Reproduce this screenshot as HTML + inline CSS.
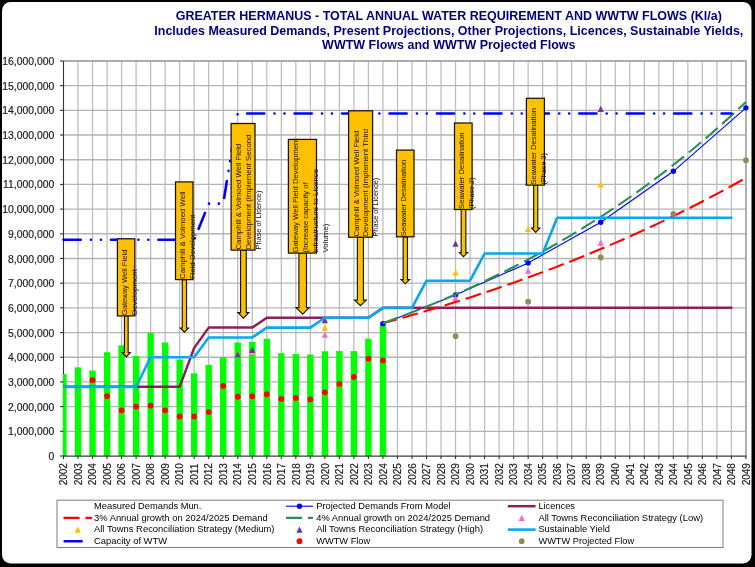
<!DOCTYPE html>
<html><head><meta charset="utf-8"><title>Greater Hermanus - Total Annual Water Requirement and WWTW Flows</title>
<style>
html,body{margin:0;padding:0;background:#000;}
body{width:755px;height:567px;position:relative;overflow:hidden;font-family:"Liberation Sans",sans-serif;}
</style></head><body>
<svg width="755" height="567" viewBox="0 0 755 567" style="position:absolute;left:0;top:0;display:block;will-change:transform">
<rect x="0" y="0" width="755" height="567" fill="#000"/>
<rect x="2" y="2" width="749.5" height="561.5" rx="8.5" ry="8.5" fill="#fff"/>
<g shape-rendering="auto" fill="none">
<line x1="78.02" y1="60.96" x2="78.02" y2="456" stroke="#bcbcbc" stroke-width="1.25"/>
<line x1="92.54" y1="60.96" x2="92.54" y2="456" stroke="#bcbcbc" stroke-width="1.25"/>
<line x1="107.06" y1="60.96" x2="107.06" y2="456" stroke="#bcbcbc" stroke-width="1.25"/>
<line x1="121.58" y1="60.96" x2="121.58" y2="456" stroke="#bcbcbc" stroke-width="1.25"/>
<line x1="136.1" y1="60.96" x2="136.1" y2="456" stroke="#bcbcbc" stroke-width="1.25"/>
<line x1="150.62" y1="60.96" x2="150.62" y2="456" stroke="#bcbcbc" stroke-width="1.25"/>
<line x1="165.14" y1="60.96" x2="165.14" y2="456" stroke="#bcbcbc" stroke-width="1.25"/>
<line x1="179.66" y1="60.96" x2="179.66" y2="456" stroke="#bcbcbc" stroke-width="1.25"/>
<line x1="194.18" y1="60.96" x2="194.18" y2="456" stroke="#bcbcbc" stroke-width="1.25"/>
<line x1="208.7" y1="60.96" x2="208.7" y2="456" stroke="#bcbcbc" stroke-width="1.25"/>
<line x1="223.22" y1="60.96" x2="223.22" y2="456" stroke="#bcbcbc" stroke-width="1.25"/>
<line x1="237.74" y1="60.96" x2="237.74" y2="456" stroke="#bcbcbc" stroke-width="1.25"/>
<line x1="252.26" y1="60.96" x2="252.26" y2="456" stroke="#bcbcbc" stroke-width="1.25"/>
<line x1="266.78" y1="60.96" x2="266.78" y2="456" stroke="#bcbcbc" stroke-width="1.25"/>
<line x1="281.3" y1="60.96" x2="281.3" y2="456" stroke="#bcbcbc" stroke-width="1.25"/>
<line x1="295.82" y1="60.96" x2="295.82" y2="456" stroke="#bcbcbc" stroke-width="1.25"/>
<line x1="310.34" y1="60.96" x2="310.34" y2="456" stroke="#bcbcbc" stroke-width="1.25"/>
<line x1="324.86" y1="60.96" x2="324.86" y2="456" stroke="#bcbcbc" stroke-width="1.25"/>
<line x1="339.38" y1="60.96" x2="339.38" y2="456" stroke="#bcbcbc" stroke-width="1.25"/>
<line x1="353.9" y1="60.96" x2="353.9" y2="456" stroke="#bcbcbc" stroke-width="1.25"/>
<line x1="368.42" y1="60.96" x2="368.42" y2="456" stroke="#bcbcbc" stroke-width="1.25"/>
<line x1="382.94" y1="60.96" x2="382.94" y2="456" stroke="#bcbcbc" stroke-width="1.25"/>
<line x1="397.46" y1="60.96" x2="397.46" y2="456" stroke="#bcbcbc" stroke-width="1.25"/>
<line x1="411.98" y1="60.96" x2="411.98" y2="456" stroke="#bcbcbc" stroke-width="1.25"/>
<line x1="426.5" y1="60.96" x2="426.5" y2="456" stroke="#bcbcbc" stroke-width="1.25"/>
<line x1="441.02" y1="60.96" x2="441.02" y2="456" stroke="#bcbcbc" stroke-width="1.25"/>
<line x1="455.54" y1="60.96" x2="455.54" y2="456" stroke="#bcbcbc" stroke-width="1.25"/>
<line x1="470.06" y1="60.96" x2="470.06" y2="456" stroke="#bcbcbc" stroke-width="1.25"/>
<line x1="484.58" y1="60.96" x2="484.58" y2="456" stroke="#bcbcbc" stroke-width="1.25"/>
<line x1="499.1" y1="60.96" x2="499.1" y2="456" stroke="#bcbcbc" stroke-width="1.25"/>
<line x1="513.62" y1="60.96" x2="513.62" y2="456" stroke="#bcbcbc" stroke-width="1.25"/>
<line x1="528.14" y1="60.96" x2="528.14" y2="456" stroke="#bcbcbc" stroke-width="1.25"/>
<line x1="542.66" y1="60.96" x2="542.66" y2="456" stroke="#bcbcbc" stroke-width="1.25"/>
<line x1="557.18" y1="60.96" x2="557.18" y2="456" stroke="#bcbcbc" stroke-width="1.25"/>
<line x1="571.7" y1="60.96" x2="571.7" y2="456" stroke="#bcbcbc" stroke-width="1.25"/>
<line x1="586.22" y1="60.96" x2="586.22" y2="456" stroke="#bcbcbc" stroke-width="1.25"/>
<line x1="600.74" y1="60.96" x2="600.74" y2="456" stroke="#bcbcbc" stroke-width="1.25"/>
<line x1="615.26" y1="60.96" x2="615.26" y2="456" stroke="#bcbcbc" stroke-width="1.25"/>
<line x1="629.78" y1="60.96" x2="629.78" y2="456" stroke="#bcbcbc" stroke-width="1.25"/>
<line x1="644.3" y1="60.96" x2="644.3" y2="456" stroke="#bcbcbc" stroke-width="1.25"/>
<line x1="658.82" y1="60.96" x2="658.82" y2="456" stroke="#bcbcbc" stroke-width="1.25"/>
<line x1="673.34" y1="60.96" x2="673.34" y2="456" stroke="#bcbcbc" stroke-width="1.25"/>
<line x1="687.86" y1="60.96" x2="687.86" y2="456" stroke="#bcbcbc" stroke-width="1.25"/>
<line x1="702.38" y1="60.96" x2="702.38" y2="456" stroke="#bcbcbc" stroke-width="1.25"/>
<line x1="716.9" y1="60.96" x2="716.9" y2="456" stroke="#bcbcbc" stroke-width="1.25"/>
<line x1="731.42" y1="60.96" x2="731.42" y2="456" stroke="#bcbcbc" stroke-width="1.25"/>
<line x1="745.94" y1="60.96" x2="745.94" y2="456" stroke="#bcbcbc" stroke-width="1.25"/>
<line x1="63.5" y1="431.31" x2="745.94" y2="431.31" stroke="#b4b4b4" stroke-width="1.35"/>
<line x1="63.5" y1="406.62" x2="745.94" y2="406.62" stroke="#b4b4b4" stroke-width="1.35"/>
<line x1="63.5" y1="381.93" x2="745.94" y2="381.93" stroke="#b4b4b4" stroke-width="1.35"/>
<line x1="63.5" y1="357.24" x2="745.94" y2="357.24" stroke="#b4b4b4" stroke-width="1.35"/>
<line x1="63.5" y1="332.55" x2="745.94" y2="332.55" stroke="#b4b4b4" stroke-width="1.35"/>
<line x1="63.5" y1="307.86" x2="745.94" y2="307.86" stroke="#b4b4b4" stroke-width="1.35"/>
<line x1="63.5" y1="283.17" x2="745.94" y2="283.17" stroke="#b4b4b4" stroke-width="1.35"/>
<line x1="63.5" y1="258.48" x2="745.94" y2="258.48" stroke="#b4b4b4" stroke-width="1.35"/>
<line x1="63.5" y1="233.79" x2="745.94" y2="233.79" stroke="#b4b4b4" stroke-width="1.35"/>
<line x1="63.5" y1="209.1" x2="745.94" y2="209.1" stroke="#b4b4b4" stroke-width="1.35"/>
<line x1="63.5" y1="184.41" x2="745.94" y2="184.41" stroke="#b4b4b4" stroke-width="1.35"/>
<line x1="63.5" y1="159.72" x2="745.94" y2="159.72" stroke="#b4b4b4" stroke-width="1.35"/>
<line x1="63.5" y1="135.03" x2="745.94" y2="135.03" stroke="#b4b4b4" stroke-width="1.35"/>
<line x1="63.5" y1="110.34" x2="745.94" y2="110.34" stroke="#b4b4b4" stroke-width="1.35"/>
<line x1="63.5" y1="85.65" x2="745.94" y2="85.65" stroke="#b4b4b4" stroke-width="1.35"/>
<line x1="63.5" y1="60.96" x2="745.94" y2="60.96" stroke="#b4b4b4" stroke-width="1.35"/>
<path d="M63.5 60.96H745.94V456" stroke="#a4a4a4" stroke-width="1.5"/>
</g>
<path d="M63.5 60.96V456" stroke="#333" stroke-width="1.1" fill="none"/>
<g fill="#00ff00">
<rect x="62.8" y="374.03" width="3.8" height="81.97"/>
<rect x="74.82" y="367.36" width="6.4" height="88.64"/>
<rect x="89.34" y="370.57" width="6.4" height="85.43"/>
<rect x="103.86" y="352.3" width="6.4" height="103.7"/>
<rect x="118.38" y="345.39" width="6.4" height="110.61"/>
<rect x="132.9" y="356.01" width="6.4" height="99.99"/>
<rect x="147.42" y="332.8" width="6.4" height="123.2"/>
<rect x="161.94" y="342.43" width="6.4" height="113.57"/>
<rect x="176.46" y="359.46" width="6.4" height="96.54"/>
<rect x="190.98" y="373.29" width="6.4" height="82.71"/>
<rect x="205.5" y="364.89" width="6.4" height="91.11"/>
<rect x="220.02" y="357.24" width="6.4" height="98.76"/>
<rect x="234.54" y="342.43" width="6.4" height="113.57"/>
<rect x="249.06" y="341.93" width="6.4" height="114.07"/>
<rect x="263.58" y="338.72" width="6.4" height="117.28"/>
<rect x="278.1" y="353.29" width="6.4" height="102.71"/>
<rect x="292.62" y="354.03" width="6.4" height="101.97"/>
<rect x="307.14" y="354.52" width="6.4" height="101.48"/>
<rect x="321.66" y="351.31" width="6.4" height="104.69"/>
<rect x="336.18" y="351.07" width="6.4" height="104.93"/>
<rect x="350.7" y="351.07" width="6.4" height="104.93"/>
<rect x="365.22" y="338.72" width="6.4" height="117.28"/>
<rect x="379.74" y="324.65" width="6.4" height="131.35"/>
</g>
<polyline points="382.94,323.66 455.54,295.02 528.14,262.92 600.74,222.19 673.34,171.32 745.94,107.87" fill="none" stroke="#0000ff" stroke-width="1.1"/>
<circle cx="382.94" cy="323.66" r="2.7" fill="#0000ff"/>
<circle cx="455.54" cy="295.02" r="2.7" fill="#0000ff"/>
<circle cx="528.14" cy="262.92" r="2.7" fill="#0000ff"/>
<circle cx="600.74" cy="222.19" r="2.7" fill="#0000ff"/>
<circle cx="673.34" cy="171.32" r="2.7" fill="#0000ff"/>
<circle cx="745.94" cy="107.87" r="2.7" fill="#0000ff"/>
<polyline points="63.5,386.87 179.66,386.87 194.18,347.86 208.7,327.61 252.26,327.61 266.78,317.74 368.42,317.74 382.94,307.86 732.44,307.86" fill="none" stroke="#8c205c" stroke-width="2.5" stroke-linejoin="round"/>
<polyline points="382.94,323.17 390.2,321.19 397.46,319.18 404.72,317.15 411.98,315.08 419.24,312.98 426.5,310.85 433.76,308.69 441.02,306.5 448.28,304.27 455.54,302.01 462.8,299.72 470.06,297.39 477.32,295.03 484.58,292.63 491.84,290.2 499.1,287.73 506.36,285.23 513.62,282.68 520.88,280.1 528.14,277.48 535.4,274.83 542.66,272.13 549.92,269.39 557.18,266.61 564.44,263.79 571.7,260.93 578.96,258.03 586.22,255.08 593.48,252.09 600.74,249.05 608,245.97 615.26,242.84 622.52,239.67 629.78,236.45 637.04,233.18 644.3,229.86 651.56,226.5 658.82,223.08 666.08,219.61 673.34,216.09 680.6,212.52 687.86,208.89 695.12,205.21 702.38,201.48 709.64,197.69 716.9,193.84 724.16,189.94 731.42,185.98 738.68,181.96 745.94,177.88" fill="none" stroke="#ff0000" stroke-width="2.1" stroke-dasharray="16 6" stroke-dashoffset="1.8"/>
<polyline points="382.94,323.17 390.2,320.54 397.46,317.85 404.72,315.12 411.98,312.33 419.24,309.48 426.5,306.58 433.76,303.62 441.02,300.61 448.28,297.53 455.54,294.39 462.8,291.19 470.06,287.92 477.32,284.6 484.58,281.2 491.84,277.74 499.1,274.21 506.36,270.61 513.62,266.94 520.88,263.19 528.14,259.38 535.4,255.48 542.66,251.51 549.92,247.46 557.18,243.33 564.44,239.12 571.7,234.82 578.96,230.44 586.22,225.98 593.48,221.42 600.74,216.78 608,212.04 615.26,207.21 622.52,202.28 629.78,197.26 637.04,192.13 644.3,186.91 651.56,181.58 658.82,176.14 666.08,170.6 673.34,164.95 680.6,159.18 687.86,153.31 695.12,147.31 702.38,141.2 709.64,134.96 716.9,128.61 724.16,122.12 731.42,115.51 738.68,108.77 745.94,101.89" fill="none" stroke="#2a9058" stroke-width="2.1" stroke-dasharray="16 6"/>
<path d="M237.74 351.42L240.84 357.62L234.64 357.62Z" fill="#ff66cc"/>
<path d="M252.26 348.71L255.36 354.91L249.16 354.91Z" fill="#ff66cc"/>
<path d="M324.86 331.67L327.96 337.87L321.76 337.87Z" fill="#ff66cc"/>
<path d="M455.54 294.88L458.64 301.08L452.44 301.08Z" fill="#ff66cc"/>
<path d="M528.14 267.48L531.24 273.68L525.04 273.68Z" fill="#ff66cc"/>
<path d="M600.74 239.58L603.84 245.78L597.64 245.78Z" fill="#ff66cc"/>
<path d="M237.74 351.42L240.84 357.62L234.64 357.62Z" fill="#ffc000"/>
<path d="M252.26 348.21L255.36 354.41L249.16 354.41Z" fill="#ffc000"/>
<path d="M324.86 324.51L327.96 330.71L321.76 330.71Z" fill="#ffc000"/>
<path d="M455.54 269.21L458.64 275.41L452.44 275.41Z" fill="#ffc000"/>
<path d="M528.14 225.75L531.24 231.95L525.04 231.95Z" fill="#ffc000"/>
<path d="M600.74 181.31L603.84 187.51L597.64 187.51Z" fill="#ffc000"/>
<path d="M237.74 351.42L240.84 357.62L234.64 357.62Z" fill="#7030a0"/>
<path d="M252.26 346.73L255.36 352.93L249.16 352.93Z" fill="#7030a0"/>
<path d="M324.86 317.1L327.96 323.31L321.76 323.31Z" fill="#7030a0"/>
<path d="M455.54 240.57L458.64 246.77L452.44 246.77Z" fill="#7030a0"/>
<path d="M528.14 178.84L531.24 185.04L525.04 185.04Z" fill="#7030a0"/>
<path d="M600.74 105.76L603.84 111.96L597.64 111.96Z" fill="#7030a0"/>
<polyline points="63.5,386.87 136.1,386.87 150.62,357.24 194.18,357.24 208.7,337.49 252.26,337.49 266.78,327.61 310.34,327.61 324.86,317.74 368.42,317.74 382.94,307.86 411.98,307.86 426.5,280.7 470.06,280.7 484.58,253.54 542.66,253.54 557.18,217.74 732.44,217.74" fill="none" stroke="#07a8ee" stroke-width="2.6" stroke-linejoin="round"/>
<polyline points="63.5,239.72 194.18,239.72 208.7,203.67 223.22,203.67 237.74,113.55 731.42,113.55" fill="none" stroke="#0000ff" stroke-width="2.6" stroke-linecap="round" stroke-dasharray="17.2 10.25 0.01 9.9 0.01 10.08"/>
<circle cx="92.54" cy="380.2" r="2.9" fill="#ff0000"/>
<circle cx="107.06" cy="396.25" r="2.9" fill="#ff0000"/>
<circle cx="121.58" cy="410.32" r="2.9" fill="#ff0000"/>
<circle cx="136.1" cy="406.62" r="2.9" fill="#ff0000"/>
<circle cx="150.62" cy="405.63" r="2.9" fill="#ff0000"/>
<circle cx="165.14" cy="410.32" r="2.9" fill="#ff0000"/>
<circle cx="179.66" cy="416.5" r="2.9" fill="#ff0000"/>
<circle cx="194.18" cy="416.5" r="2.9" fill="#ff0000"/>
<circle cx="208.7" cy="412.05" r="2.9" fill="#ff0000"/>
<circle cx="223.22" cy="385.88" r="2.9" fill="#ff0000"/>
<circle cx="237.74" cy="396.74" r="2.9" fill="#ff0000"/>
<circle cx="252.26" cy="396.25" r="2.9" fill="#ff0000"/>
<circle cx="266.78" cy="394.27" r="2.9" fill="#ff0000"/>
<circle cx="281.3" cy="398.97" r="2.9" fill="#ff0000"/>
<circle cx="295.82" cy="397.98" r="2.9" fill="#ff0000"/>
<circle cx="310.34" cy="399.46" r="2.9" fill="#ff0000"/>
<circle cx="324.86" cy="392.3" r="2.9" fill="#ff0000"/>
<circle cx="339.38" cy="383.91" r="2.9" fill="#ff0000"/>
<circle cx="353.9" cy="376.99" r="2.9" fill="#ff0000"/>
<circle cx="368.42" cy="358.72" r="2.9" fill="#ff0000"/>
<circle cx="382.94" cy="360.45" r="2.9" fill="#ff0000"/>
<circle cx="455.54" cy="336.25" r="2.9" fill="#948a54"/>
<circle cx="528.14" cy="301.69" r="2.9" fill="#948a54"/>
<circle cx="600.74" cy="257.49" r="2.9" fill="#948a54"/>
<circle cx="673.34" cy="213.79" r="2.9" fill="#948a54"/>
<circle cx="745.94" cy="160.21" r="2.9" fill="#948a54"/>
<g stroke="#333" stroke-width="1.1" fill="none">
<path d="M63 456.1H746.34" stroke="#3a3a3a" stroke-width="1.4"/>
<path d="M60 456H63.5"/>
<path d="M60 431.31H63.5"/>
<path d="M60 406.62H63.5"/>
<path d="M60 381.93H63.5"/>
<path d="M60 357.24H63.5"/>
<path d="M60 332.55H63.5"/>
<path d="M60 307.86H63.5"/>
<path d="M60 283.17H63.5"/>
<path d="M60 258.48H63.5"/>
<path d="M60 233.79H63.5"/>
<path d="M60 209.1H63.5"/>
<path d="M60 184.41H63.5"/>
<path d="M60 159.72H63.5"/>
<path d="M60 135.03H63.5"/>
<path d="M60 110.34H63.5"/>
<path d="M60 85.65H63.5"/>
<path d="M60 60.96H63.5"/>
<path d="M63.5 456V459"/>
<path d="M78.02 456V459"/>
<path d="M92.54 456V459"/>
<path d="M107.06 456V459"/>
<path d="M121.58 456V459"/>
<path d="M136.1 456V459"/>
<path d="M150.62 456V459"/>
<path d="M165.14 456V459"/>
<path d="M179.66 456V459"/>
<path d="M194.18 456V459"/>
<path d="M208.7 456V459"/>
<path d="M223.22 456V459"/>
<path d="M237.74 456V459"/>
<path d="M252.26 456V459"/>
<path d="M266.78 456V459"/>
<path d="M281.3 456V459"/>
<path d="M295.82 456V459"/>
<path d="M310.34 456V459"/>
<path d="M324.86 456V459"/>
<path d="M339.38 456V459"/>
<path d="M353.9 456V459"/>
<path d="M368.42 456V459"/>
<path d="M382.94 456V459"/>
<path d="M397.46 456V459"/>
<path d="M411.98 456V459"/>
<path d="M426.5 456V459"/>
<path d="M441.02 456V459"/>
<path d="M455.54 456V459"/>
<path d="M470.06 456V459"/>
<path d="M484.58 456V459"/>
<path d="M499.1 456V459"/>
<path d="M513.62 456V459"/>
<path d="M528.14 456V459"/>
<path d="M542.66 456V459"/>
<path d="M557.18 456V459"/>
<path d="M571.7 456V459"/>
<path d="M586.22 456V459"/>
<path d="M600.74 456V459"/>
<path d="M615.26 456V459"/>
<path d="M629.78 456V459"/>
<path d="M644.3 456V459"/>
<path d="M658.82 456V459"/>
<path d="M673.34 456V459"/>
<path d="M687.86 456V459"/>
<path d="M702.38 456V459"/>
<path d="M716.9 456V459"/>
<path d="M731.42 456V459"/>
<path d="M745.94 456V459"/>
</g>
<g font-family="Liberation Sans, sans-serif" font-size="10.05" fill="#1c1c1c" stroke="#1c1c1c" stroke-width="0.18">
<text transform="translate(54.3 460.05) scale(1.035 1)" text-anchor="end">0</text>
<text transform="translate(54.3 435.36) scale(1.035 1)" text-anchor="end">1,000,000</text>
<text transform="translate(54.3 410.67) scale(1.035 1)" text-anchor="end">2,000,000</text>
<text transform="translate(54.3 385.98) scale(1.035 1)" text-anchor="end">3,000,000</text>
<text transform="translate(54.3 361.29) scale(1.035 1)" text-anchor="end">4,000,000</text>
<text transform="translate(54.3 336.6) scale(1.035 1)" text-anchor="end">5,000,000</text>
<text transform="translate(54.3 311.91) scale(1.035 1)" text-anchor="end">6,000,000</text>
<text transform="translate(54.3 287.22) scale(1.035 1)" text-anchor="end">7,000,000</text>
<text transform="translate(54.3 262.53) scale(1.035 1)" text-anchor="end">8,000,000</text>
<text transform="translate(54.3 237.84) scale(1.035 1)" text-anchor="end">9,000,000</text>
<text transform="translate(54.3 213.15) scale(1.035 1)" text-anchor="end">10,000,000</text>
<text transform="translate(54.3 188.46) scale(1.035 1)" text-anchor="end">11,000,000</text>
<text transform="translate(54.3 163.77) scale(1.035 1)" text-anchor="end">12,000,000</text>
<text transform="translate(54.3 139.08) scale(1.035 1)" text-anchor="end">13,000,000</text>
<text transform="translate(54.3 114.39) scale(1.035 1)" text-anchor="end">14,000,000</text>
<text transform="translate(54.3 89.7) scale(1.035 1)" text-anchor="end">15,000,000</text>
<text transform="translate(54.3 65.01) scale(1.035 1)" text-anchor="end">16,000,000</text>
<text transform="translate(67.25 485.3) scale(1.045 1) rotate(-90)" font-size="10">2002</text>
<text transform="translate(81.77 485.3) scale(1.045 1) rotate(-90)" font-size="10">2003</text>
<text transform="translate(96.29 485.3) scale(1.045 1) rotate(-90)" font-size="10">2004</text>
<text transform="translate(110.81 485.3) scale(1.045 1) rotate(-90)" font-size="10">2005</text>
<text transform="translate(125.33 485.3) scale(1.045 1) rotate(-90)" font-size="10">2006</text>
<text transform="translate(139.85 485.3) scale(1.045 1) rotate(-90)" font-size="10">2007</text>
<text transform="translate(154.37 485.3) scale(1.045 1) rotate(-90)" font-size="10">2008</text>
<text transform="translate(168.89 485.3) scale(1.045 1) rotate(-90)" font-size="10">2009</text>
<text transform="translate(183.41 485.3) scale(1.045 1) rotate(-90)" font-size="10">2010</text>
<text transform="translate(197.93 485.3) scale(1.045 1) rotate(-90)" font-size="10">2011</text>
<text transform="translate(212.45 485.3) scale(1.045 1) rotate(-90)" font-size="10">2012</text>
<text transform="translate(226.97 485.3) scale(1.045 1) rotate(-90)" font-size="10">2013</text>
<text transform="translate(241.49 485.3) scale(1.045 1) rotate(-90)" font-size="10">2014</text>
<text transform="translate(256.01 485.3) scale(1.045 1) rotate(-90)" font-size="10">2015</text>
<text transform="translate(270.53 485.3) scale(1.045 1) rotate(-90)" font-size="10">2016</text>
<text transform="translate(285.05 485.3) scale(1.045 1) rotate(-90)" font-size="10">2017</text>
<text transform="translate(299.57 485.3) scale(1.045 1) rotate(-90)" font-size="10">2018</text>
<text transform="translate(314.09 485.3) scale(1.045 1) rotate(-90)" font-size="10">2019</text>
<text transform="translate(328.61 485.3) scale(1.045 1) rotate(-90)" font-size="10">2020</text>
<text transform="translate(343.13 485.3) scale(1.045 1) rotate(-90)" font-size="10">2021</text>
<text transform="translate(357.65 485.3) scale(1.045 1) rotate(-90)" font-size="10">2022</text>
<text transform="translate(372.17 485.3) scale(1.045 1) rotate(-90)" font-size="10">2023</text>
<text transform="translate(386.69 485.3) scale(1.045 1) rotate(-90)" font-size="10">2024</text>
<text transform="translate(401.21 485.3) scale(1.045 1) rotate(-90)" font-size="10">2025</text>
<text transform="translate(415.73 485.3) scale(1.045 1) rotate(-90)" font-size="10">2026</text>
<text transform="translate(430.25 485.3) scale(1.045 1) rotate(-90)" font-size="10">2027</text>
<text transform="translate(444.77 485.3) scale(1.045 1) rotate(-90)" font-size="10">2028</text>
<text transform="translate(459.29 485.3) scale(1.045 1) rotate(-90)" font-size="10">2029</text>
<text transform="translate(473.81 485.3) scale(1.045 1) rotate(-90)" font-size="10">2030</text>
<text transform="translate(488.33 485.3) scale(1.045 1) rotate(-90)" font-size="10">2031</text>
<text transform="translate(502.85 485.3) scale(1.045 1) rotate(-90)" font-size="10">2032</text>
<text transform="translate(517.37 485.3) scale(1.045 1) rotate(-90)" font-size="10">2033</text>
<text transform="translate(531.89 485.3) scale(1.045 1) rotate(-90)" font-size="10">2034</text>
<text transform="translate(546.41 485.3) scale(1.045 1) rotate(-90)" font-size="10">2035</text>
<text transform="translate(560.93 485.3) scale(1.045 1) rotate(-90)" font-size="10">2036</text>
<text transform="translate(575.45 485.3) scale(1.045 1) rotate(-90)" font-size="10">2037</text>
<text transform="translate(589.97 485.3) scale(1.045 1) rotate(-90)" font-size="10">2038</text>
<text transform="translate(604.49 485.3) scale(1.045 1) rotate(-90)" font-size="10">2039</text>
<text transform="translate(619.01 485.3) scale(1.045 1) rotate(-90)" font-size="10">2040</text>
<text transform="translate(633.53 485.3) scale(1.045 1) rotate(-90)" font-size="10">2041</text>
<text transform="translate(648.05 485.3) scale(1.045 1) rotate(-90)" font-size="10">2042</text>
<text transform="translate(662.57 485.3) scale(1.045 1) rotate(-90)" font-size="10">2043</text>
<text transform="translate(677.09 485.3) scale(1.045 1) rotate(-90)" font-size="10">2044</text>
<text transform="translate(691.61 485.3) scale(1.045 1) rotate(-90)" font-size="10">2045</text>
<text transform="translate(706.13 485.3) scale(1.045 1) rotate(-90)" font-size="10">2046</text>
<text transform="translate(720.65 485.3) scale(1.045 1) rotate(-90)" font-size="10">2047</text>
<text transform="translate(735.17 485.3) scale(1.045 1) rotate(-90)" font-size="10">2048</text>
<text transform="translate(749.69 485.3) scale(1.045 1) rotate(-90)" font-size="10">2049</text>
</g>
<g font-family="Liberation Sans, sans-serif" font-size="12" font-weight="bold" fill="#000080" text-anchor="middle" transform="translate(448.8 0) scale(1.042 1)">
<text x="0" y="20.5">GREATER HERMANUS - TOTAL ANNUAL WATER REQUIREMENT AND WWTW FLOWS (Kl/a)</text>
<text x="0" y="34.8">Includes Measured Demands, Present Projections, Other Projections, Licences, Sustainable Yields,</text>
<text x="0" y="49.3">WWTW Flows and WWTW Projected Flows</text>
</g>
<path d="M124.45 315.9V352.5H122.25L126.3 357L130.35 352.5H128.15V315.9Z" fill="#ffc000" stroke="#141414" stroke-width="1.15" stroke-linejoin="miter"/>
<rect x="117.4" y="238.8" width="17.4" height="77.1" fill="#ffc000" stroke="#141414" stroke-width="1.25"/>
<text transform="translate(127.3 315.3) rotate(-90)" font-family="Liberation Sans, sans-serif" font-size="7.6" fill="#111" textLength="65.76" lengthAdjust="spacingAndGlyphs">Gateway Well Field</text>
<text transform="translate(137.25 315.3) rotate(-90)" font-family="Liberation Sans, sans-serif" font-size="7.6" fill="#111" textLength="46.21" lengthAdjust="spacingAndGlyphs">Development</text>
<path d="M182.25 279.6V328H180.35L184.4 332.2L188.45 328H186.55V279.6Z" fill="#ffc000" stroke="#141414" stroke-width="1.15" stroke-linejoin="miter"/>
<rect x="175.5" y="181.9" width="17.5" height="97.7" fill="#ffc000" stroke="#141414" stroke-width="1.25"/>
<text transform="translate(185.4 279) rotate(-90)" font-family="Liberation Sans, sans-serif" font-size="7.6" fill="#111" textLength="87.61" lengthAdjust="spacingAndGlyphs">Camphill &amp; Volmoed Well</text>
<text transform="translate(195.35 279) rotate(-90)" font-family="Liberation Sans, sans-serif" font-size="7.6" fill="#111" textLength="64.42" lengthAdjust="spacingAndGlyphs">Field Development</text>
<path d="M240.55 250.1V312.6H237.95L243.4 318.2L248.85 312.6H246.25V250.1Z" fill="#ffc000" stroke="#141414" stroke-width="1.15" stroke-linejoin="miter"/>
<rect x="231.1" y="123.5" width="23.9" height="126.6" fill="#ffc000" stroke="#141414" stroke-width="1.25"/>
<text transform="translate(241 249.5) rotate(-90)" font-family="Liberation Sans, sans-serif" font-size="7.6" fill="#111" textLength="105.82" lengthAdjust="spacingAndGlyphs">Camphill &amp; Volmoed Well Field</text>
<text transform="translate(250.95 249.5) rotate(-90)" font-family="Liberation Sans, sans-serif" font-size="7.6" fill="#111" textLength="114.86" lengthAdjust="spacingAndGlyphs">Development (Implement Second</text>
<text transform="translate(260.9 249.5) rotate(-90)" font-family="Liberation Sans, sans-serif" font-size="7.6" fill="#111" textLength="58.91" lengthAdjust="spacingAndGlyphs">Phase of Licence)</text>
<path d="M298.9 253.1V307.6H296.1L302.7 314.1L309.3 307.6H306.5V253.1Z" fill="#ffc000" stroke="#141414" stroke-width="1.15" stroke-linejoin="miter"/>
<rect x="288.4" y="139.4" width="28.1" height="113.7" fill="#ffc000" stroke="#141414" stroke-width="1.25"/>
<text transform="translate(298.3 252.5) rotate(-90)" font-family="Liberation Sans, sans-serif" font-size="7.6" fill="#111" textLength="113.87" lengthAdjust="spacingAndGlyphs">Gateway Well Field Development</text>
<text transform="translate(308.25 252.5) rotate(-90)" font-family="Liberation Sans, sans-serif" font-size="7.6" fill="#111" textLength="70.12" lengthAdjust="spacingAndGlyphs">(Increase capacity of</text>
<text transform="translate(318.2 252.5) rotate(-90)" font-family="Liberation Sans, sans-serif" font-size="7.6" fill="#111" textLength="83.56" lengthAdjust="spacingAndGlyphs">infrastructure to Licence</text>
<text transform="translate(328.15 252.5) rotate(-90)" font-family="Liberation Sans, sans-serif" font-size="7.6" fill="#111" textLength="28.97" lengthAdjust="spacingAndGlyphs">Volume)</text>
<path d="M357.35 237.2V300.1H354.6L360.4 305.7L366.2 300.1H363.45V237.2Z" fill="#ffc000" stroke="#141414" stroke-width="1.15" stroke-linejoin="miter"/>
<rect x="348.6" y="110.8" width="24" height="126.4" fill="#ffc000" stroke="#141414" stroke-width="1.25"/>
<text transform="translate(358.5 236.6) rotate(-90)" font-family="Liberation Sans, sans-serif" font-size="7.6" fill="#111" textLength="105.82" lengthAdjust="spacingAndGlyphs">Camphill &amp; Volmoed Well Field</text>
<text transform="translate(368.45 236.6) rotate(-90)" font-family="Liberation Sans, sans-serif" font-size="7.6" fill="#111" textLength="107.79" lengthAdjust="spacingAndGlyphs">Development (Implement Third</text>
<text transform="translate(378.4 236.6) rotate(-90)" font-family="Liberation Sans, sans-serif" font-size="7.6" fill="#111" textLength="58.91" lengthAdjust="spacingAndGlyphs">Phase of Licence)</text>
<path d="M403.15 236.8V279.6H401.1L405.3 283.8L409.5 279.6H407.45V236.8Z" fill="#ffc000" stroke="#141414" stroke-width="1.15" stroke-linejoin="miter"/>
<rect x="396.5" y="150.1" width="17.5" height="86.7" fill="#ffc000" stroke="#141414" stroke-width="1.25"/>
<text transform="translate(406.4 236.2) rotate(-90)" font-family="Liberation Sans, sans-serif" font-size="7.6" fill="#111" textLength="76.44" lengthAdjust="spacingAndGlyphs">Seawater Desalination</text>
<path d="M461.15 209.5V252.6H459.45L463.5 256.7L467.55 252.6H465.85V209.5Z" fill="#ffc000" stroke="#141414" stroke-width="1.15" stroke-linejoin="miter"/>
<rect x="454.5" y="123" width="17.6" height="86.5" fill="#ffc000" stroke="#141414" stroke-width="1.25"/>
<text transform="translate(464.4 208.9) rotate(-90)" font-family="Liberation Sans, sans-serif" font-size="7.6" fill="#111" textLength="76.44" lengthAdjust="spacingAndGlyphs">Seawater Desalination</text>
<text transform="translate(474.35 208.9) rotate(-90)" font-family="Liberation Sans, sans-serif" font-size="7.6" fill="#111" textLength="31.49" lengthAdjust="spacingAndGlyphs">(Phase 2)</text>
<path d="M533.65 185.1V228H531.6L535.7 232.4L539.8 228H537.75V185.1Z" fill="#ffc000" stroke="#141414" stroke-width="1.15" stroke-linejoin="miter"/>
<rect x="526.4" y="98.3" width="18" height="86.8" fill="#ffc000" stroke="#141414" stroke-width="1.25"/>
<text transform="translate(536.3 184.5) rotate(-90)" font-family="Liberation Sans, sans-serif" font-size="7.6" fill="#111" textLength="76.44" lengthAdjust="spacingAndGlyphs">Seawater Desalination</text>
<text transform="translate(546.25 184.5) rotate(-90)" font-family="Liberation Sans, sans-serif" font-size="7.6" fill="#111" textLength="31.49" lengthAdjust="spacingAndGlyphs">(Phase 3)</text>
<rect x="57" y="500.2" width="666" height="47.3" fill="#fff" stroke="#7f7f7f" stroke-width="1"/>
<g font-family="Liberation Sans, sans-serif" font-size="9.2" fill="#000">
<text x="94" y="509.3" textLength="107.4" lengthAdjust="spacingAndGlyphs">Measured Demands Mun.</text>
<line x1="286" y1="506.2" x2="313" y2="506.2" stroke="#0000ff" stroke-width="1.1"/>
<circle cx="299.5" cy="506.2" r="2.7" fill="#0000ff"/>
<text x="316.2" y="509.3" textLength="134.4" lengthAdjust="spacingAndGlyphs">Projected Demands From Model</text>
<line x1="507.8" y1="506.2" x2="535.6" y2="506.2" stroke="#8c205c" stroke-width="2.5"/>
<text x="538.4" y="509.3" textLength="36.6" lengthAdjust="spacingAndGlyphs">Licences</text>
<line x1="63.5" y1="517.9" x2="92" y2="517.9" stroke="#ff0000" stroke-width="2.1" stroke-dasharray="16 6"/>
<text x="94" y="520.6" textLength="173.6" lengthAdjust="spacingAndGlyphs">3% Annual growth on 2024/2025 Demand</text>
<line x1="286" y1="517.9" x2="313" y2="517.9" stroke="#2a9058" stroke-width="2.1" stroke-dasharray="16 6"/>
<text x="316.2" y="520.6" textLength="173.9" lengthAdjust="spacingAndGlyphs">4% Annual growth on 2024/2025 Demand</text>
<path d="M521.7 514.8L524.8 521L518.6 521Z" fill="#ff66cc"/>
<text x="538.4" y="520.6" textLength="164.7" lengthAdjust="spacingAndGlyphs">All Towns Reconciliation Strategy (Low)</text>
<path d="M77.75 526.5L80.85 532.7L74.65 532.7Z" fill="#ffc000"/>
<text x="94" y="532.2" textLength="180.5" lengthAdjust="spacingAndGlyphs">All Towns Reconciliation Strategy (Medium)</text>
<path d="M299.5 526.5L302.6 532.7L296.4 532.7Z" fill="#7030a0"/>
<text x="316.2" y="532.2" textLength="166.9" lengthAdjust="spacingAndGlyphs">All Towns Reconciliation Strategy (High)</text>
<line x1="507.8" y1="529.6" x2="535.6" y2="529.6" stroke="#07a8ee" stroke-width="2.6"/>
<text x="538.4" y="532.2" textLength="71.6" lengthAdjust="spacingAndGlyphs">Sustainable Yield</text>
<line x1="64.8" y1="541.2" x2="81.5" y2="541.2" stroke="#0000ff" stroke-width="2.6" stroke-linecap="round"/>
<text x="94" y="543.7" textLength="73.1" lengthAdjust="spacingAndGlyphs">Capacity of WTW</text>
<circle cx="299.5" cy="541.2" r="2.9" fill="#ff0000"/>
<text x="316.2" y="543.7" textLength="54" lengthAdjust="spacingAndGlyphs">WWTW Flow</text>
<circle cx="521.7" cy="541.2" r="2.9" fill="#948a54"/>
<text x="538.4" y="543.7" textLength="95.7" lengthAdjust="spacingAndGlyphs">WWTW Projected Flow</text>
</g>
</svg>
</body></html>
